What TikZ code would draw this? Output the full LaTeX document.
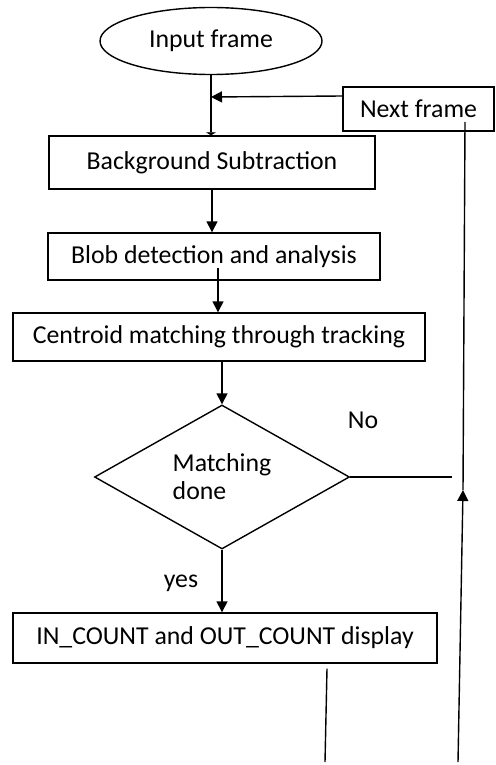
\documentclass[tikz,border=0pt]{standalone}
\usepackage{fontspec}
\setmainfont{Carlito}
\usetikzlibrary{shapes.geometric,arrows.meta,positioning}

\begin{document}
\begin{tikzpicture}[x=1pt,y=-1pt,
    font=\fontsize{25.8}{28}\selectfont,
    line width=1.4pt,
    box/.style={draw,rectangle,inner sep=0pt},
    tip/.style={-{Triangle[length=11pt,width=11pt]}}]
  \useasboundingbox[fill=white] (0,0) rectangle (495,765);

  \node[draw,ellipse,minimum width=222pt,minimum height=67pt,inner sep=0pt] (input) at (211,41) {Input frame};
  \node[box,minimum width=151pt,minimum height=44pt] (next) at (418.5,109) {Next frame};
  \node[box,minimum width=326pt,minimum height=53pt] (bgsub) at (212,162.5) {Background Subtraction};
  \node[box,minimum width=332pt,minimum height=47pt] (blob) at (214,256.5) {Blob detection and analysis};
  \node[box,minimum width=412pt,minimum height=48pt] (centroid) at (219,337) {Centroid matching through tracking};
  \node[draw,diamond,aspect=1.77,minimum width=255pt,minimum height=144pt,inner sep=0pt,align=left] (match) at (222,477) {Matching\\done};
  \node[box,minimum width=424pt,minimum height=50pt] (count) at (225,638) {IN\_COUNT and OUT\_COUNT display};
  \node (no) at (363,420) {No};
  \node (yes) at (181,583) {yes};

  \coordinate (join) at (211,97);
  \coordinate (loopbot) at (458,762);
  \coordinate (loopmid) at (463,490);
  \coordinate (looptop) at (465,122);
  \coordinate (noend) at (452,477);
  \coordinate (countend) at (325,762);

  \draw[-{Triangle[length=3pt,width=10pt]}] (input.south) -- (input.south |- bgsub.north);
  \draw[tip] ([yshift=13pt]next.west) -- (join);
  \draw[tip] (loopbot) -- (loopmid);
  \draw (loopmid) -- (looptop);
  \draw[tip] (bgsub.south) -- (bgsub.south |- blob.north);
  \draw[tip] ([xshift=4pt,yshift=13pt]blob.south) -- ([xshift=4pt]blob.south |- centroid.north);
  \draw[tip] ([xshift=3pt]centroid.south) -- (match.north);
  \draw (match.east) -- (noend);
  \draw[tip] (match.south) -- (match.south |- count.north);
  \draw ([xshift=102pt,yshift=-5pt]count.south) -- (countend);
\end{tikzpicture}
\end{document}
